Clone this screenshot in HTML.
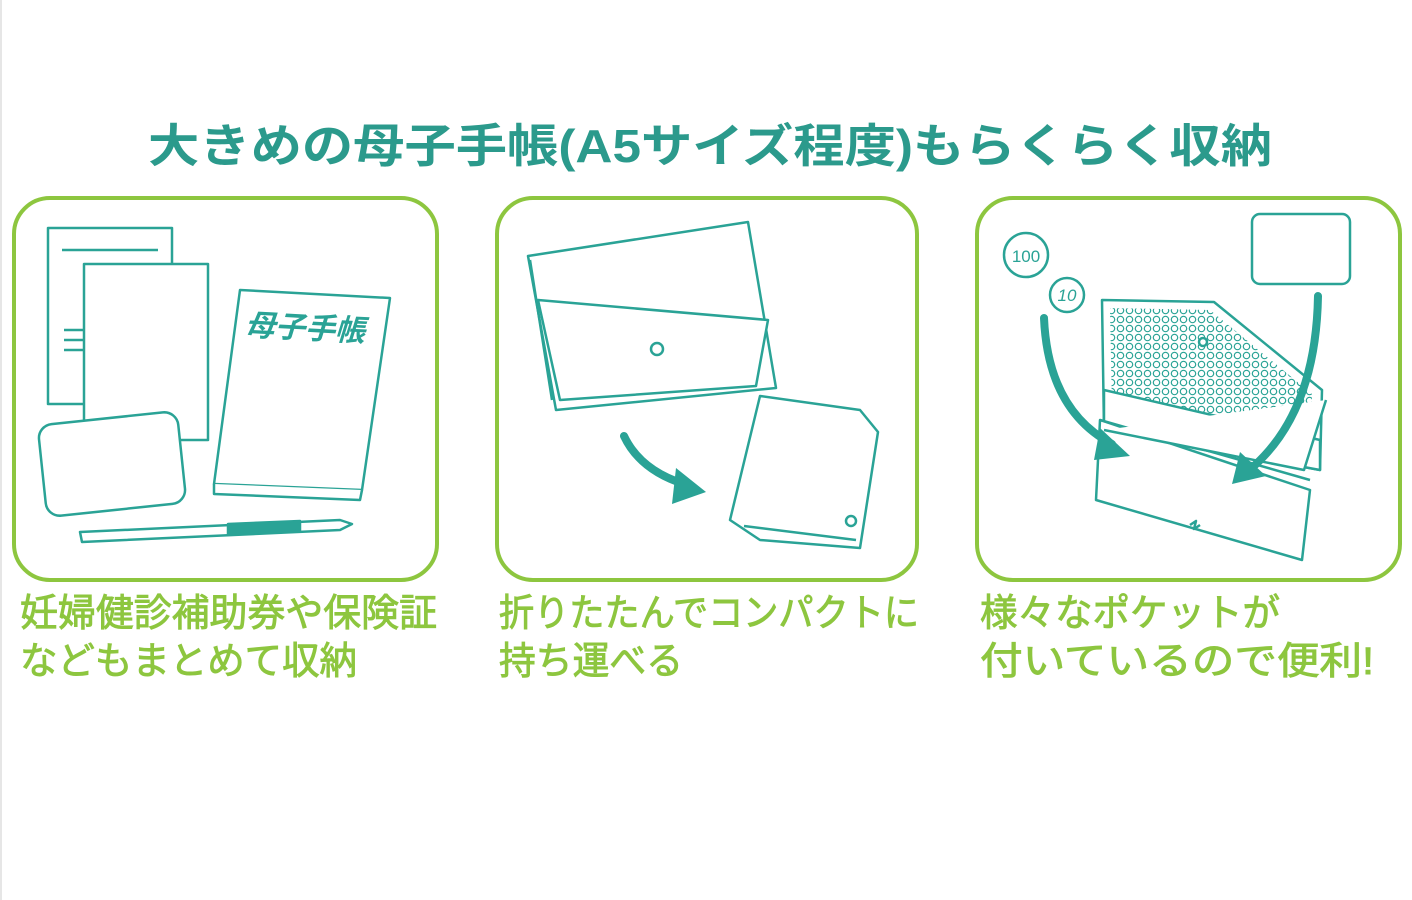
<!DOCTYPE html>
<html><head><meta charset="utf-8"><style>
html,body{margin:0;padding:0;background:#fff;}
svg{display:block}
text{font-family:"Liberation Sans","Noto Sans CJK JP",sans-serif;}
</style></head><body>
<svg width="1412" height="900" viewBox="0 0 1412 900" xmlns="http://www.w3.org/2000/svg">
<defs>
<pattern id="dots" width="9" height="9" patternUnits="userSpaceOnUse"><circle cx="4.5" cy="4.5" r="3.2" fill="none" stroke="#2aa396" stroke-width="1.2"/></pattern>
</defs>
<rect x="0" y="0" width="1412" height="900" fill="#fff"/>
<line x1="1" y1="0" x2="1" y2="900" stroke="#e6e6e6" stroke-width="2"/>
<text x="710" y="162" text-anchor="middle" font-size="46" font-weight="bold" fill="#2b9a8c" textLength="1124" lengthAdjust="spacingAndGlyphs">大きめの母子手帳(A5サイズ程度)もらくらく収納</text>
<g fill="none" stroke="#8dc63f" stroke-width="4">
<rect x="14" y="198" width="423" height="382" rx="36"/>
<rect x="497" y="198" width="420" height="382" rx="36"/>
<rect x="977" y="198" width="423" height="382" rx="36"/>
</g>
<g fill="#fff" stroke="#2aa396" stroke-width="2.5" stroke-linejoin="round">
<!-- panel1 -->
<rect x="48" y="228" width="124" height="176"/>
<line x1="62" y1="250" x2="158" y2="250"/>
<rect x="84" y="264" width="124" height="176"/>
<line x1="64" y1="330" x2="84" y2="330"/><line x1="64" y1="340" x2="84" y2="340"/><line x1="64" y1="350" x2="84" y2="350"/>
<path d="M240 290 L390 298 L362 490 L214 484 Z"/>
<path d="M214 484 L214 494 L360 500 L362 490"/>
<rect x="42" y="418" width="140" height="92" rx="14" transform="rotate(-6 112 464)"/>
<path d="M80 532 L340 520 L352 524 L340 530 L82 542 Z"/>
<path d="M228 524 L300 521 L300 531 L228 534 Z" fill="#2aa396"/>
<!-- panel2 -->
<path d="M528 256 L748 222 L776 388 L556 410 Z"/>
<path d="M530 260 L552 400"/>
<path d="M538 300 L768 320 L756 386 L560 400 Z"/>
<circle cx="657" cy="349" r="6"/>
<path d="M760 396 L860 410 L878 432 L860 548 L760 540 L730 520 Z"/>
<path d="M744 526 L856 540"/>
<circle cx="851" cy="521" r="5"/>
<!-- panel3 -->
<rect x="1252" y="214" width="98" height="70" rx="8"/>
<circle cx="1026" cy="255" r="22"/><circle cx="1067" cy="295" r="17"/>
<path d="M1102 300 L1214 302 L1322 390 L1320 470 L1104 430 Z"/>
<path d="M1110 308 L1210 310 L1312 394 L1312 440 L1112 410 Z" fill="url(#dots)" stroke="none"/>
<path d="M1104 390 L1320 440 L1320 470 L1104 430 Z"/>
<path d="M1100 420 L1310 490 L1302 560 L1096 500 Z"/>
<path d="M1100 420 L1310 480"/>
<path d="M1104 430 L1304 470 L1326 400"/>
<circle cx="1203" cy="342" r="4"/>
<path d="M1190 525 l6 -4 l-2 8 l6 -4" fill="none"/>
</g>
<g font-size="17" fill="#2aa396" text-anchor="middle"><text x="1026" y="262">100</text><text x="1067" y="301" font-style="italic">10</text></g>
<text x="245" y="338" font-size="30" font-weight="bold" font-style="italic" fill="#2aa396" transform="rotate(3 300 330)">母子手帳</text>
<g fill="none" stroke="#2aa396" stroke-width="8" stroke-linecap="round">
<path d="M624 436 Q640 470 684 484"/>
<path d="M1044 318 Q1048 410 1112 444"/>
<path d="M1318 296 Q1316 410 1254 466"/>
</g>
<g fill="#2aa396">
<path d="M676 468 L706 492 L672 504 Z"/>
<path d="M1100 428 L1130 456 L1094 460 Z"/>
<path d="M1240 452 L1266 476 L1232 484 Z"/>
</g>
<g font-size="38" fill="#8dc63f" stroke="#8dc63f" stroke-width="0.9">
<text x="20" y="626" textLength="417" lengthAdjust="spacingAndGlyphs">妊婦健診補助券や保険証</text>
<text x="20" y="674" textLength="337" lengthAdjust="spacingAndGlyphs">などもまとめて収納</text>
<text x="499" y="626" textLength="420" lengthAdjust="spacingAndGlyphs">折りたたんでコンパクトに</text>
<text x="499" y="674" textLength="184" lengthAdjust="spacingAndGlyphs">持ち運べる</text>
<text x="980" y="626" textLength="300" lengthAdjust="spacingAndGlyphs">様々なポケットが</text>
<text x="980" y="674" textLength="394" lengthAdjust="spacingAndGlyphs">付いているので便利!</text>
</g>
</svg>
</body></html>
